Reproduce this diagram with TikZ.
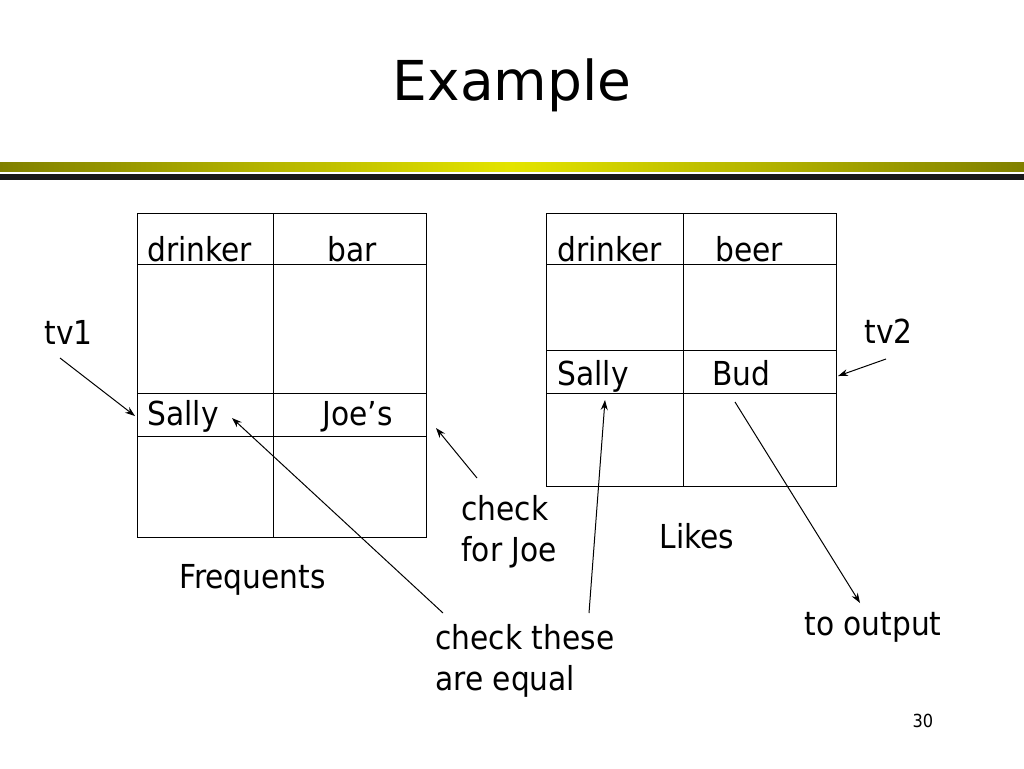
\documentclass[tikz,border=0pt]{standalone}
\usepackage{fontspec}
\setmainfont{DejaVu Sans Condensed}
\newfontfamily\titlefont{DejaVu Sans}
\usetikzlibrary{arrows.meta}
\definecolor{barolive}{RGB}{128,128,0}
\definecolor{baryellow}{RGB}{228,228,0}

\begin{document}
\begin{tikzpicture}[x=1pt,y=-1pt,line width=1pt,
	txt/.style={anchor=base west,inner sep=0pt,align=left,font=\fontsize{33}{41}\selectfont},
	pointer/.style={-{Stealth[length=10pt,width=7pt]},line width=1pt}]
	\useasboundingbox (0,0) rectangle (1024,768);
	\node [anchor=base,inner sep=0pt,font=\titlefont\fontsize{55}{60}\selectfont] (title) at (512,100) {Example};
	\shade [left color=barolive,right color=barolive,middle color=baryellow] (0,162) rectangle (1024,171);
	\fill [black!90] (0,174) rectangle (1024,180);
	% Frequents
	\draw (137,213) rectangle (426,537);
	\draw (273,213) -- (273,537);
	\foreach \y in {264,393,436} \draw (137,\y) -- (426,\y);
	\node [txt] (fdrinker) at (147,261) {drinker};
	\node [txt] (fbar) at (327,261) {bar};
	\node [txt] (fsally) at (147,425) {Sally};
	\node [txt] (fjoe) at (322,425) {Joe’s};
	\node [txt] (freq) at (179,588) {Frequents};
	% Likes
	\draw (546,213) rectangle (836,486);
	\draw (683,213) -- (683,486);
	\foreach \y in {264,350,393} \draw (546,\y) -- (836,\y);
	\node [txt] (ldrinker) at (557,261) {drinker};
	\node [txt] (lbeer) at (715,261) {beer};
	\node [txt] (lsally) at (557,385) {Sally};
	\node [txt] (lbud) at (712,385) {Bud};
	\node [txt] (likes) at (659,548) {Likes};
	% labels
	\node [txt] (tv1) at (44,344) {tv1};
	\node [txt] (tv2) at (864,343) {tv2};
	\node [txt] (checkjoe) at (461,561) {check\\for Joe};
	\node [txt] (checkeq) at (435,690) {check these\\are equal};
	\node [txt] (output) at (804,635) {to output};
	\node [txt,font=\fontsize{18}{20}\selectfont] (page) at (912,727) {30};
	% pointers
	\coordinate (tvonefrom) at (60,358);
	\coordinate (tvoneto) at (135,416);
	\coordinate (tvtwofrom) at (886,359);
	\coordinate (tvtwoto) at (838,376);
	\coordinate (joefrom) at (477,478);
	\coordinate (joeto) at (436,428);
	\coordinate (eqleft) at (443,613);
	\coordinate (eqright) at (589,613);
	\coordinate (fsallyto) at (232,418);
	\coordinate (lsallyto) at (605,400);
	\coordinate (budfrom) at (735,402);
	\coordinate (outto) at (860,603);
	\draw [pointer] (tvonefrom) -- (tvoneto);
	\draw [pointer] (tvtwofrom) -- (tvtwoto);
	\draw [pointer] (joefrom) -- (joeto);
	\draw [pointer] (eqleft) -- (fsallyto);
	\draw [pointer] (eqright) -- (lsallyto);
	\draw [pointer] (budfrom) -- (outto);
\end{tikzpicture}
\end{document}
